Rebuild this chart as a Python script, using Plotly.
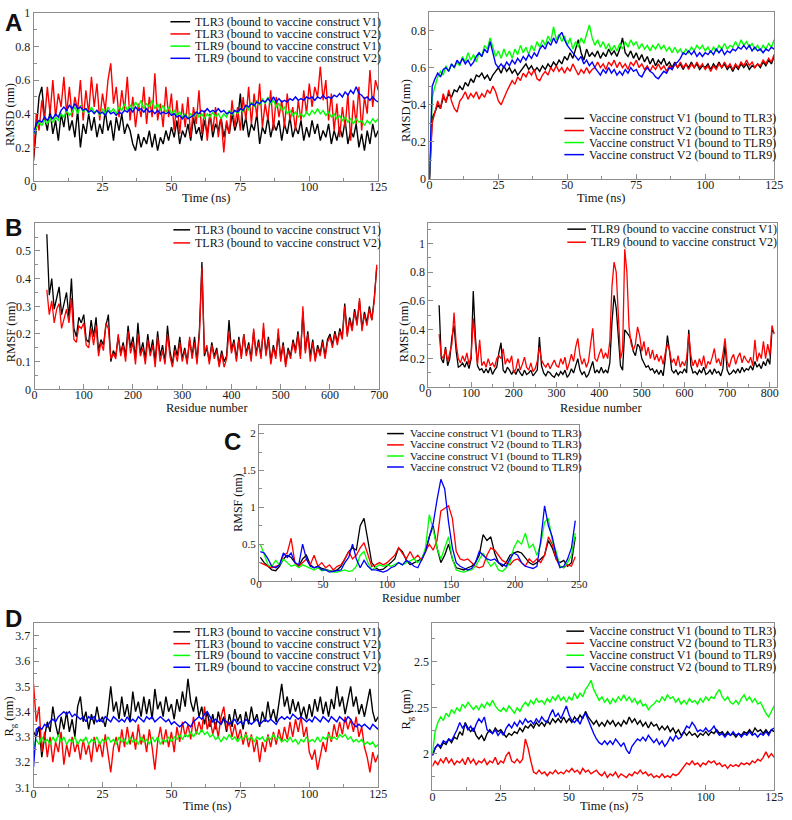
import plotly.graph_objects as go

W, H = 792, 820
SERIF = "Liberation Serif, Times New Roman, serif"
SANS = "Liberation Sans, Arial, sans-serif"
AXC = "#8c8c8c"
COLORS = ["#000000", "#ff0000", "#00ff00", "#0000ff"]

# ---------------- Panel A (left): RMSD of TLR3/TLR9, time 0..125 ns (1 ns step)
A_TLR3_V1 = [0.12,0.30,0.50,0.56,0.38,0.30,0.42,0.28,0.36,0.24,
             0.40,0.32,0.44,0.30,0.36,0.26,0.42,0.20,0.34,0.28,
             0.40,0.30,0.38,0.26,0.34,0.28,0.42,0.30,0.36,0.24,
             0.38,0.30,0.40,0.28,0.34,0.30,0.22,0.18,0.28,0.20,
             0.26,0.22,0.30,0.20,0.28,0.18,0.26,0.22,0.30,0.24,
             0.32,0.26,0.36,0.22,0.30,0.26,0.34,0.24,0.38,0.28,
             0.32,0.24,0.36,0.28,0.40,0.26,0.34,0.30,0.38,0.26,
             0.34,0.28,0.40,0.30,0.36,0.52,0.30,0.38,0.26,0.34,
             0.30,0.40,0.22,0.32,0.28,0.38,0.26,0.34,0.30,0.36,
             0.24,0.34,0.28,0.38,0.26,0.32,0.28,0.36,0.24,0.32,
             0.26,0.36,0.28,0.34,0.24,0.30,0.26,0.34,0.22,0.30,
             0.24,0.32,0.26,0.36,0.22,0.30,0.26,0.34,0.20,0.28,
             0.18,0.30,0.22,0.34,0.26,0.30]
A_TLR3_V2 = [0.14,0.40,0.30,0.48,0.36,0.56,0.40,0.60,0.38,0.52,
             0.44,0.62,0.40,0.56,0.38,0.50,0.42,0.60,0.36,0.54,
             0.40,0.62,0.44,0.58,0.36,0.52,0.42,0.60,0.70,0.46,
             0.56,0.38,0.54,0.42,0.62,0.36,0.50,0.32,0.46,0.38,
             0.56,0.34,0.50,0.38,0.64,0.36,0.46,0.32,0.56,0.38,
             0.52,0.30,0.48,0.28,0.46,0.32,0.50,0.26,0.44,0.34,
             0.54,0.28,0.42,0.24,0.40,0.30,0.44,0.26,0.38,0.17,
             0.36,0.28,0.48,0.32,0.44,0.30,0.50,0.36,0.56,0.34,
             0.52,0.38,0.58,0.32,0.46,0.36,0.54,0.30,0.50,0.38,
             0.48,0.32,0.52,0.36,0.44,0.30,0.48,0.36,0.54,0.40,
             0.58,0.44,0.56,0.50,0.68,0.48,0.60,0.36,0.52,0.30,
             0.46,0.26,0.44,0.32,0.52,0.24,0.48,0.34,0.56,0.30,
             0.50,0.40,0.66,0.44,0.60,0.54]
A_TLR9_V1 = [0.28,0.32,0.35,0.33,0.36,0.34,0.37,0.35,0.38,0.36,
             0.40,0.38,0.42,0.39,0.41,0.44,0.40,0.45,0.41,0.43,
             0.40,0.44,0.41,0.42,0.39,0.43,0.40,0.44,0.41,0.43,
             0.40,0.44,0.42,0.46,0.42,0.45,0.43,0.47,0.44,0.48,
             0.43,0.46,0.44,0.48,0.43,0.46,0.42,0.45,0.41,0.44,
             0.40,0.42,0.39,0.41,0.38,0.40,0.37,0.40,0.38,0.41,
             0.38,0.40,0.37,0.40,0.38,0.41,0.38,0.40,0.37,0.40,
             0.38,0.42,0.39,0.42,0.40,0.43,0.41,0.45,0.42,0.47,
             0.44,0.48,0.45,0.49,0.46,0.50,0.46,0.48,0.44,0.46,
             0.42,0.44,0.40,0.42,0.39,0.41,0.38,0.40,0.38,0.41,
             0.39,0.42,0.40,0.43,0.40,0.42,0.39,0.41,0.38,0.40,
             0.37,0.39,0.36,0.38,0.35,0.37,0.34,0.37,0.35,0.36,
             0.33,0.36,0.34,0.37,0.35,0.37]
A_TLR9_V2 = [0.28,0.34,0.36,0.35,0.38,0.36,0.39,0.37,0.40,0.38,
             0.42,0.44,0.42,0.45,0.43,0.46,0.43,0.44,0.42,0.43,
             0.41,0.42,0.40,0.42,0.40,0.41,0.39,0.42,0.40,0.41,
             0.39,0.41,0.40,0.42,0.41,0.43,0.41,0.44,0.42,0.43,
             0.41,0.43,0.41,0.42,0.40,0.42,0.40,0.41,0.40,0.41,
             0.39,0.40,0.38,0.39,0.37,0.39,0.37,0.38,0.39,0.41,
             0.40,0.42,0.41,0.43,0.41,0.42,0.41,0.43,0.41,0.42,
             0.40,0.41,0.40,0.42,0.41,0.43,0.42,0.45,0.44,0.46,
             0.45,0.47,0.46,0.48,0.47,0.49,0.47,0.50,0.47,0.49,
             0.47,0.48,0.47,0.49,0.48,0.50,0.48,0.49,0.48,0.50,
             0.49,0.50,0.48,0.50,0.49,0.51,0.49,0.50,0.49,0.51,
             0.50,0.52,0.50,0.53,0.51,0.54,0.52,0.56,0.52,0.51,
             0.49,0.50,0.48,0.50,0.48,0.47]

# ---------------- Panel A (right): RMSD of vaccine constructs
AR_V1_TLR3 = [0.00,0.33,0.36,0.40,0.38,0.44,0.42,0.46,0.44,0.48,
              0.47,0.50,0.48,0.52,0.50,0.54,0.52,0.56,0.55,0.57,
              0.54,0.56,0.53,0.56,0.58,0.60,0.57,0.61,0.58,0.60,
              0.57,0.59,0.56,0.58,0.60,0.62,0.59,0.61,0.58,0.60,
              0.58,0.61,0.59,0.62,0.60,0.63,0.61,0.64,0.62,0.66,
              0.64,0.68,0.65,0.70,0.75,0.68,0.64,0.70,0.66,0.68,
              0.66,0.69,0.65,0.68,0.66,0.70,0.67,0.69,0.66,0.70,
              0.76,0.68,0.66,0.69,0.65,0.68,0.64,0.67,0.63,0.66,
              0.62,0.65,0.61,0.64,0.62,0.65,0.61,0.63,0.60,0.63,
              0.60,0.62,0.59,0.62,0.60,0.63,0.60,0.62,0.59,0.61,
              0.60,0.62,0.59,0.62,0.60,0.63,0.60,0.62,0.59,0.61,
              0.58,0.61,0.59,0.62,0.60,0.62,0.59,0.61,0.60,0.62,
              0.60,0.63,0.61,0.64,0.62,0.66]
AR_V2_TLR3 = [0.00,0.30,0.36,0.42,0.38,0.46,0.41,0.48,0.42,0.38,
              0.36,0.42,0.44,0.47,0.43,0.46,0.44,0.47,0.43,0.46,
              0.44,0.48,0.46,0.50,0.47,0.42,0.40,0.44,0.47,0.50,
              0.53,0.51,0.55,0.53,0.57,0.55,0.58,0.56,0.59,0.54,
              0.53,0.56,0.58,0.56,0.60,0.58,0.61,0.58,0.60,0.57,
              0.60,0.58,0.62,0.59,0.56,0.59,0.57,0.60,0.57,0.59,
              0.60,0.63,0.60,0.62,0.59,0.63,0.61,0.64,0.60,0.63,
              0.60,0.62,0.59,0.63,0.61,0.64,0.60,0.62,0.59,0.61,
              0.58,0.61,0.59,0.62,0.59,0.61,0.58,0.61,0.59,0.62,
              0.60,0.63,0.60,0.62,0.59,0.62,0.60,0.63,0.60,0.62,
              0.59,0.61,0.58,0.61,0.59,0.62,0.60,0.63,0.60,0.62,
              0.59,0.62,0.60,0.63,0.61,0.64,0.61,0.63,0.60,0.62,
              0.61,0.64,0.62,0.65,0.63,0.67]
AR_V1_TLR9 = [0.00,0.44,0.50,0.55,0.58,0.56,0.61,0.58,0.62,0.60,
              0.63,0.61,0.66,0.63,0.68,0.64,0.67,0.63,0.68,0.66,
              0.72,0.70,0.76,0.71,0.66,0.69,0.65,0.70,0.66,0.69,
              0.65,0.70,0.67,0.72,0.68,0.71,0.67,0.72,0.69,0.74,
              0.71,0.75,0.72,0.77,0.74,0.82,0.75,0.78,0.74,0.77,
              0.72,0.76,0.70,0.74,0.71,0.76,0.73,0.78,0.83,0.76,
              0.72,0.75,0.71,0.74,0.70,0.73,0.69,0.72,0.69,0.73,
              0.70,0.74,0.71,0.75,0.72,0.74,0.70,0.73,0.70,0.72,
              0.69,0.72,0.70,0.73,0.70,0.72,0.69,0.71,0.68,0.71,
              0.68,0.70,0.67,0.70,0.68,0.71,0.69,0.72,0.70,0.72,
              0.69,0.71,0.68,0.71,0.69,0.72,0.70,0.73,0.70,0.72,
              0.71,0.74,0.71,0.75,0.72,0.74,0.71,0.73,0.70,0.72,
              0.69,0.72,0.70,0.73,0.71,0.75]
AR_V2_TLR9 = [0.00,0.50,0.54,0.57,0.55,0.59,0.60,0.58,0.62,0.60,
              0.64,0.62,0.65,0.62,0.64,0.61,0.63,0.66,0.68,0.66,
              0.70,0.68,0.74,0.68,0.62,0.60,0.62,0.60,0.63,0.61,
              0.64,0.62,0.65,0.63,0.66,0.64,0.67,0.65,0.68,0.66,
              0.70,0.72,0.70,0.74,0.72,0.76,0.73,0.77,0.79,0.75,
              0.72,0.70,0.68,0.66,0.64,0.66,0.62,0.64,0.61,0.63,
              0.60,0.58,0.56,0.59,0.57,0.60,0.57,0.59,0.56,0.58,
              0.56,0.59,0.57,0.60,0.58,0.59,0.56,0.55,0.58,0.60,
              0.58,0.57,0.55,0.54,0.56,0.58,0.57,0.60,0.59,0.62,
              0.63,0.65,0.68,0.67,0.69,0.67,0.69,0.66,0.68,0.66,
              0.68,0.67,0.69,0.67,0.70,0.68,0.70,0.67,0.69,0.68,
              0.70,0.69,0.71,0.70,0.72,0.70,0.72,0.69,0.71,0.69,
              0.70,0.68,0.70,0.69,0.71,0.70]

# ---------------- Panel B (left): RMSF TLR3, residues from 25 step 5
B_TLR3_START, B_STEP = 25, 5
B_TLR3_V1 = [0.56,0.34,0.40,0.29,0.33,0.37,0.27,0.31,0.35,0.26,
             0.40,0.22,0.19,0.26,0.24,0.27,0.18,0.17,0.25,0.19,
             0.26,0.14,0.18,0.16,0.23,0.27,0.10,0.14,0.12,0.19,
             0.13,0.17,0.12,0.23,0.15,0.19,0.11,0.24,0.13,0.17,
             0.11,0.20,0.13,0.18,0.10,0.21,0.12,0.16,0.10,0.23,
             0.14,0.09,0.16,0.12,0.19,0.11,0.15,0.10,0.18,0.12,
             0.19,0.10,0.22,0.46,0.12,0.15,0.10,0.17,0.12,0.15,
             0.09,0.14,0.10,0.12,0.25,0.14,0.18,0.11,0.19,0.12,
             0.20,0.13,0.17,0.11,0.21,0.13,0.18,0.12,0.22,0.13,
             0.19,0.10,0.16,0.12,0.20,0.11,0.17,0.09,0.15,0.12,
             0.18,0.14,0.21,0.12,0.28,0.14,0.21,0.12,0.18,0.11,
             0.16,0.13,0.18,0.12,0.18,0.20,0.16,0.21,0.17,0.22,
             0.19,0.31,0.20,0.26,0.22,0.29,0.24,0.32,0.22,0.28,
             0.24,0.30,0.25,0.33,0.44]
B_TLR3_V2 = [0.36,0.27,0.32,0.24,0.29,0.31,0.22,0.26,0.29,0.24,
             0.33,0.18,0.17,0.23,0.22,0.24,0.16,0.15,0.22,0.16,
             0.23,0.12,0.17,0.14,0.24,0.22,0.11,0.13,0.11,0.20,
             0.12,0.16,0.10,0.21,0.13,0.17,0.09,0.20,0.12,0.15,
             0.09,0.18,0.12,0.16,0.08,0.19,0.10,0.14,0.09,0.20,
             0.12,0.08,0.14,0.10,0.17,0.10,0.14,0.09,0.19,0.11,
             0.17,0.09,0.20,0.44,0.13,0.16,0.09,0.16,0.11,0.14,
             0.08,0.13,0.08,0.11,0.21,0.13,0.17,0.10,0.18,0.11,
             0.20,0.12,0.16,0.10,0.22,0.12,0.17,0.11,0.24,0.12,
             0.18,0.09,0.15,0.11,0.22,0.10,0.16,0.08,0.14,0.11,
             0.17,0.13,0.20,0.11,0.30,0.13,0.20,0.10,0.17,0.10,
             0.15,0.12,0.17,0.11,0.17,0.19,0.15,0.20,0.16,0.21,
             0.18,0.30,0.19,0.25,0.21,0.28,0.23,0.33,0.21,0.27,
             0.23,0.29,0.25,0.32,0.45]

# ---------------- Panel B (right): RMSF TLR9, residues from 25 step 5
B_TLR9_START = 25
B_TLR9_V1 = [0.57,0.20,0.17,0.28,0.15,0.20,0.35,0.43,0.25,0.14,
             0.15,0.17,0.14,0.18,0.13,0.20,0.67,0.35,0.15,0.12,
             0.13,0.10,0.13,0.10,0.14,0.09,0.12,0.14,0.24,0.31,
             0.12,0.10,0.14,0.12,0.09,0.12,0.09,0.13,0.10,0.08,
             0.12,0.09,0.10,0.12,0.08,0.10,0.12,0.35,0.15,0.10,
             0.08,0.11,0.10,0.08,0.07,0.10,0.08,0.11,0.09,0.12,
             0.07,0.09,0.13,0.10,0.15,0.20,0.12,0.09,0.11,0.07,
             0.09,0.13,0.18,0.10,0.12,0.10,0.14,0.10,0.12,0.10,
             0.17,0.45,0.64,0.55,0.38,0.15,0.12,0.40,0.38,0.36,
             0.33,0.25,0.22,0.30,0.28,0.20,0.17,0.14,0.15,0.12,
             0.13,0.10,0.12,0.09,0.12,0.08,0.20,0.36,0.25,0.12,
             0.10,0.12,0.09,0.11,0.10,0.13,0.10,0.40,0.15,0.10,
             0.11,0.09,0.12,0.10,0.14,0.09,0.10,0.12,0.09,0.13,
             0.10,0.11,0.08,0.13,0.30,0.12,0.09,0.10,0.12,0.10,
             0.13,0.10,0.14,0.11,0.13,0.12,0.15,0.12,0.18,0.14,
             0.16,0.13,0.18,0.15,0.20,0.16,0.40,0.38]
B_TLR9_V2 = [0.37,0.22,0.20,0.27,0.18,0.24,0.30,0.52,0.30,0.20,
             0.17,0.22,0.18,0.24,0.16,0.22,0.48,0.30,0.16,0.33,
             0.15,0.18,0.14,0.20,0.15,0.17,0.14,0.20,0.22,0.20,
             0.27,0.16,0.20,0.17,0.22,0.10,0.13,0.20,0.12,0.16,
             0.21,0.14,0.12,0.17,0.11,0.13,0.18,0.28,0.19,0.16,
             0.14,0.17,0.13,0.16,0.19,0.15,0.14,0.20,0.16,0.21,
             0.12,0.17,0.23,0.18,0.28,0.34,0.22,0.16,0.20,0.14,
             0.18,0.30,0.41,0.20,0.18,0.23,0.27,0.20,0.24,0.20,
             0.32,0.70,0.87,0.80,0.50,0.20,0.26,0.96,0.80,0.42,
             0.30,0.26,0.30,0.42,0.36,0.25,0.32,0.22,0.28,0.20,
             0.26,0.19,0.23,0.18,0.22,0.16,0.24,0.30,0.26,0.17,
             0.20,0.15,0.22,0.14,0.18,0.15,0.20,0.37,0.22,0.15,
             0.19,0.14,0.20,0.15,0.22,0.13,0.18,0.16,0.21,0.27,
             0.17,0.20,0.15,0.23,0.34,0.18,0.14,0.20,0.23,0.16,
             0.21,0.24,0.17,0.22,0.19,0.17,0.21,0.15,0.33,0.18,
             0.24,0.20,0.32,0.20,0.30,0.22,0.43,0.37]

# ---------------- Panel C: RMSF vaccine constructs, residues from 1 step 3
C_START, C_STEP = 1, 3
C_V1_TLR3 = [0.32,0.25,0.20,0.15,0.14,0.20,0.30,0.35,0.32,0.25,
             0.20,0.30,0.35,0.22,0.18,0.20,0.17,0.15,0.14,0.13,
             0.15,0.20,0.30,0.40,0.45,0.42,0.75,0.85,0.55,0.25,
             0.18,0.15,0.16,0.20,0.25,0.30,0.45,0.40,0.28,0.22,
             0.25,0.28,0.30,0.40,0.60,0.75,0.45,0.25,0.35,0.50,
             0.30,0.18,0.16,0.15,0.18,0.20,0.25,0.35,0.63,0.55,
             0.60,0.38,0.25,0.20,0.25,0.35,0.38,0.40,0.38,0.32,
             0.25,0.22,0.25,0.30,0.35,0.55,0.45,0.30,0.25,0.28,
             0.20,0.25,0.60]
C_V2_TLR3 = [0.25,0.22,0.20,0.18,0.20,0.22,0.35,0.38,0.58,0.25,
             0.20,0.25,0.30,0.22,0.35,0.20,0.25,0.18,0.22,0.15,
             0.20,0.22,0.30,0.40,0.30,0.35,0.45,0.52,0.35,0.20,
             0.22,0.25,0.22,0.25,0.30,0.35,0.45,0.38,0.30,0.40,
             0.30,0.35,0.28,0.40,0.50,0.42,0.55,0.95,0.98,1.02,
             0.85,0.40,0.30,0.28,0.30,0.25,0.20,0.18,0.20,0.35,
             0.45,0.42,0.35,0.28,0.25,0.22,0.28,0.30,0.25,0.20,
             0.30,0.25,0.30,0.25,0.35,0.60,0.50,0.30,0.20,0.18,
             0.22,0.20,0.33]
C_V1_TLR9 = [0.50,0.35,0.22,0.20,0.28,0.22,0.30,0.25,0.20,0.22,
             0.18,0.22,0.20,0.18,0.15,0.18,0.14,0.15,0.13,0.12,
             0.12,0.14,0.15,0.13,0.14,0.20,0.35,0.40,0.25,0.15,
             0.18,0.22,0.20,0.22,0.20,0.22,0.25,0.22,0.25,0.28,
             0.30,0.25,0.30,0.45,0.90,0.70,0.45,0.30,0.45,0.60,
             0.30,0.15,0.13,0.12,0.14,0.15,0.20,0.30,0.38,0.28,
             0.20,0.25,0.15,0.13,0.18,0.25,0.45,0.55,0.50,0.65,
             0.45,0.50,0.35,0.50,0.80,0.85,0.55,0.40,0.20,0.18,
             0.25,0.35,0.65]
C_V2_TLR9 = [0.40,0.38,0.30,0.20,0.18,0.22,0.38,0.32,0.38,0.25,
             0.22,0.50,0.30,0.20,0.18,0.20,0.15,0.15,0.12,0.13,
             0.14,0.15,0.25,0.32,0.50,0.30,0.18,0.28,0.20,0.15,
             0.15,0.13,0.12,0.14,0.18,0.20,0.25,0.22,0.28,0.25,
             0.20,0.18,0.28,0.40,0.60,0.78,1.10,1.38,1.25,0.80,
             0.45,0.25,0.20,0.18,0.15,0.17,0.25,0.40,0.35,0.30,
             0.28,0.30,0.25,0.22,0.20,0.30,0.38,0.35,0.25,0.20,
             0.18,0.17,0.20,0.55,1.02,0.75,0.60,0.35,0.18,0.20,
             0.30,0.45,0.82]

# ---------------- Panel D (left): Rg TLR3/TLR9
D_TLR3_V1 = [3.32,3.30,3.34,3.22,3.30,3.36,3.32,3.42,3.35,3.30,
             3.38,3.33,3.40,3.32,3.37,3.30,3.42,3.46,3.36,3.40,
             3.33,3.39,3.35,3.42,3.36,3.38,3.34,3.40,3.50,3.40,
             3.44,3.37,3.46,3.38,3.43,3.36,3.48,3.40,3.44,3.38,
             3.46,3.39,3.45,3.37,3.49,3.41,3.44,3.38,3.46,3.40,
             3.43,3.37,3.45,3.40,3.48,3.42,3.53,3.44,3.40,3.46,
             3.38,3.42,3.35,3.40,3.34,3.39,3.33,3.40,3.35,3.38,
             3.32,3.39,3.34,3.41,3.36,3.39,3.33,3.40,3.35,3.42,
             3.36,3.39,3.34,3.40,3.36,3.44,3.37,3.41,3.36,3.43,
             3.51,3.42,3.46,3.39,3.45,3.40,3.44,3.38,3.42,3.37,
             3.43,3.38,3.45,3.40,3.46,3.39,3.44,3.38,3.45,3.41,
             3.50,3.42,3.46,3.39,3.44,3.50,3.42,3.46,3.39,3.43,
             3.38,3.44,3.49,3.40,3.36,3.38]
D_TLR3_V2 = [3.51,3.36,3.42,3.24,3.32,3.22,3.30,3.20,3.28,3.24,
             3.32,3.19,3.27,3.22,3.30,3.24,3.28,3.21,3.29,3.23,
             3.27,3.20,3.30,3.24,3.28,3.22,3.31,3.24,3.16,3.26,
             3.30,3.24,3.33,3.26,3.34,3.27,3.32,3.25,3.35,3.27,
             3.31,3.24,3.33,3.26,3.17,3.28,3.34,3.27,3.33,3.26,
             3.32,3.24,3.34,3.28,3.36,3.30,3.35,3.29,3.38,3.31,
             3.36,3.32,3.42,3.33,3.37,3.31,3.36,3.30,3.38,3.42,
             3.33,3.36,3.30,3.35,3.29,3.33,3.27,3.32,3.26,3.31,
             3.24,3.29,3.20,3.28,3.24,3.31,3.26,3.32,3.27,3.33,
             3.28,3.34,3.29,3.36,3.30,3.37,3.32,3.38,3.30,3.34,
             3.24,3.21,3.25,3.17,3.22,3.28,3.24,3.32,3.28,3.35,
             3.30,3.36,3.31,3.38,3.33,3.37,3.32,3.38,3.30,3.34,
             3.26,3.22,3.16,3.24,3.20,3.23]
D_TLR9_V1 = [3.26,3.29,3.27,3.30,3.28,3.29,3.27,3.30,3.28,3.31,
             3.28,3.30,3.27,3.29,3.28,3.30,3.27,3.29,3.28,3.30,
             3.27,3.29,3.28,3.30,3.27,3.29,3.28,3.30,3.28,3.29,
             3.27,3.30,3.28,3.29,3.27,3.30,3.28,3.29,3.27,3.30,
             3.28,3.29,3.27,3.30,3.28,3.30,3.27,3.29,3.28,3.30,
             3.28,3.30,3.29,3.31,3.29,3.31,3.30,3.32,3.30,3.32,
             3.31,3.33,3.31,3.32,3.30,3.31,3.29,3.30,3.28,3.30,
             3.29,3.31,3.29,3.30,3.28,3.30,3.29,3.31,3.29,3.30,
             3.28,3.30,3.29,3.30,3.28,3.30,3.29,3.31,3.29,3.30,
             3.28,3.29,3.28,3.30,3.28,3.29,3.27,3.29,3.28,3.30,
             3.28,3.29,3.28,3.30,3.28,3.30,3.29,3.31,3.29,3.30,
             3.29,3.31,3.30,3.31,3.29,3.30,3.28,3.29,3.28,3.29,
             3.27,3.28,3.27,3.28,3.26,3.27]
D_TLR9_V2 = [3.18,3.33,3.34,3.33,3.35,3.34,3.36,3.37,3.36,3.38,
             3.39,3.40,3.39,3.40,3.38,3.39,3.38,3.37,3.38,3.36,
             3.38,3.37,3.38,3.36,3.37,3.36,3.38,3.37,3.36,3.38,
             3.37,3.36,3.37,3.36,3.38,3.36,3.37,3.36,3.38,3.37,
             3.36,3.38,3.37,3.38,3.36,3.37,3.38,3.37,3.36,3.37,
             3.35,3.36,3.35,3.34,3.35,3.36,3.35,3.34,3.36,3.37,
             3.38,3.37,3.39,3.40,3.38,3.36,3.37,3.36,3.35,3.37,
             3.36,3.35,3.36,3.37,3.35,3.36,3.35,3.37,3.36,3.35,
             3.36,3.37,3.35,3.36,3.37,3.36,3.37,3.36,3.35,3.37,
             3.38,3.37,3.38,3.37,3.39,3.38,3.37,3.38,3.37,3.36,
             3.37,3.36,3.38,3.37,3.36,3.38,3.37,3.36,3.38,3.37,
             3.36,3.38,3.37,3.36,3.38,3.37,3.35,3.34,3.35,3.34,
             3.35,3.34,3.33,3.35,3.34,3.33]

# ---------------- Panel D (right): Rg vaccine constructs
DR_V1_TLR3 = [1.99,2.03,2.05,2.03,2.06,2.05,2.08,2.06,2.09,2.08,
              2.12,2.10,2.17,2.14,2.12,2.14,2.10,2.08,2.10,2.07,
              2.11,2.13,2.11,2.14,2.12,2.13,2.11,2.09,2.11,2.10,
              2.12,2.11,2.14,2.12,2.15,2.14,2.16,2.14,2.17,2.15,
              2.17,2.15,2.18,2.16,2.19,2.17,2.19,2.17,2.20,2.17,
              2.19,2.17,2.20,2.18,2.21,2.19,2.23,2.20,2.18,2.16,
              2.18,2.15,2.17,2.15,2.18,2.16,2.18,2.15,2.17,2.15,
              2.18,2.16,2.20,2.17,2.19,2.16,2.18,2.15,2.17,2.14,
              2.17,2.15,2.16,2.13,2.15,2.13,2.15,2.12,2.14,2.11,
              2.13,2.10,2.12,2.10,2.12,2.10,2.11,2.09,2.11,2.10,
              2.12,2.10,2.12,2.11,2.13,2.11,2.12,2.10,2.12,2.10,
              2.11,2.09,2.11,2.10,2.12,2.11,2.13,2.11,2.14,2.12,
              2.13,2.11,2.13,2.11,2.13,2.12]
DR_V2_TLR3 = [1.93,1.96,1.94,1.97,1.95,1.98,1.95,1.97,1.94,1.96,
              1.95,1.97,1.94,1.98,1.95,1.97,1.94,1.96,1.95,1.97,
              1.94,1.96,1.95,1.98,1.94,1.96,1.95,1.99,2.01,1.96,
              1.95,1.97,1.95,1.97,2.08,2.03,1.96,1.90,1.89,1.91,
              1.89,1.90,1.88,1.90,1.89,1.91,1.89,1.90,1.89,1.91,
              1.90,1.92,1.90,1.91,1.89,1.92,1.90,1.91,1.89,1.90,
              1.91,1.89,1.88,1.90,1.87,1.89,1.88,1.90,1.87,1.89,
              1.88,1.87,1.89,1.88,1.90,1.89,1.91,1.89,1.90,1.88,
              1.89,1.87,1.88,1.87,1.89,1.87,1.88,1.87,1.89,1.88,
              1.89,1.91,1.93,1.95,1.94,1.96,1.94,1.95,1.93,1.95,
              1.94,1.96,1.95,1.96,1.94,1.95,1.93,1.94,1.92,1.94,
              1.93,1.94,1.93,1.95,1.94,1.95,1.94,1.96,1.95,1.97,
              1.96,1.98,2.01,1.98,2.00,1.98]
DR_V1_TLR9 = [2.00,2.12,2.17,2.20,2.18,2.22,2.20,2.24,2.22,2.25,
              2.23,2.27,2.25,2.28,2.26,2.24,2.26,2.24,2.27,2.25,
              2.28,2.26,2.29,2.26,2.24,2.23,2.25,2.23,2.26,2.24,
              2.22,2.25,2.23,2.26,2.28,2.26,2.29,2.27,2.30,2.28,
              2.29,2.27,2.30,2.28,2.31,2.29,2.32,2.29,2.31,2.28,
              2.31,2.29,2.33,2.30,2.33,2.31,2.35,2.37,2.40,2.35,
              2.32,2.29,2.31,2.28,2.30,2.27,2.30,2.28,2.31,2.29,
              2.32,2.29,2.31,2.28,2.30,2.27,2.29,2.26,2.27,2.24,
              2.26,2.27,2.29,2.28,2.31,2.29,2.32,2.30,2.31,2.28,
              2.30,2.27,2.29,2.27,2.30,2.28,2.29,2.27,2.30,2.28,
              2.31,2.29,2.31,2.30,2.33,2.35,2.31,2.29,2.31,2.28,
              2.27,2.29,2.27,2.30,2.32,2.29,2.31,2.28,2.30,2.27,
              2.28,2.25,2.22,2.20,2.23,2.26]
DR_V2_TLR9 = [1.99,2.03,2.05,2.04,2.07,2.06,2.08,2.07,2.10,2.13,
              2.17,2.14,2.16,2.13,2.15,2.12,2.16,2.19,2.17,2.20,
              2.13,2.12,2.11,2.13,2.10,2.12,2.10,2.14,2.16,2.14,
              2.17,2.15,2.18,2.16,2.19,2.17,2.18,2.16,2.19,2.17,
              2.20,2.18,2.17,2.21,2.24,2.20,2.22,2.19,2.23,2.26,
              2.21,2.18,2.17,2.19,2.16,2.20,2.22,2.18,2.15,2.11,
              2.08,2.06,2.05,2.07,2.05,2.07,2.05,2.08,2.06,2.04,
              2.06,2.02,2.00,2.04,2.06,2.08,2.07,2.09,2.07,2.10,
              2.08,2.06,2.08,2.05,2.07,2.04,2.06,2.09,2.07,2.10,
              2.08,2.09,2.12,2.15,2.14,2.17,2.15,2.12,2.13,2.12,
              2.14,2.12,2.13,2.15,2.12,2.10,2.11,2.09,2.11,2.10,
              2.12,2.10,2.11,2.09,2.11,2.10,2.12,2.10,2.11,2.09,
              2.11,2.10,2.12,2.10,2.13,2.14]

TLR_LABELS = ["TLR3 (bound to vaccine construct V1)", "TLR3 (bound to vaccine construct V2)",
              "TLR9 (bound to vaccine construct V1)", "TLR9 (bound to vaccine construct V2)"]
VAC_LABELS = ["Vaccine construct V1 (bound to TLR3)", "Vaccine construct V2 (bound to TLR3)",
              "Vaccine construct V1 (bound to TLR9)", "Vaccine construct V2 (bound to TLR9)"]
TIME_TICKS = [0, 25, 50, 75, 100, 125]


def fx(p):
    return p / W


def fy(p):
    return 1 - p / H


def fmt(v):
    return ("%.3f" % v).rstrip("0").rstrip(".")


# panel definitions: pixel box (x0, y0, x1, y1)
PANELS = [
    dict(box=(31, 6, 381, 177), xr=[0, 125], yr=[0, 1], xt=TIME_TICKS, xm=12.5,
         yt=[0, 0.2, 0.4, 0.6, 0.8, 1], ym=0.1, fs=12, so=-5),
    dict(box=(433, 5, 783, 175), xr=[0, 125], yr=[0, 0.9], xt=TIME_TICKS, xm=12.5,
         yt=[0, 0.2, 0.4, 0.6, 0.8], ym=0.1, fs=12, so=-5),
    dict(box=(32, 220, 382, 389), xr=[0, 700], yr=[0, 0.6], xt=list(range(0, 701, 100)), xm=50,
         yt=[0, 0.1, 0.2, 0.3, 0.4, 0.5], ym=0.05, fs=12, so=-6),
    dict(box=(432, 220, 786, 387), xr=[0, 817], yr=[0, 1.14], xt=list(range(0, 801, 100)), xm=50,
         yt=[0, 0.2, 0.4, 0.6, 0.8, 1], ym=0.1, fs=12, so=-6),
    dict(box=(260, 425, 585, 584), xr=[0, 250], yr=[0, 2.12], xt=[0, 50, 100, 150, 200, 250], xm=25,
         yt=[0, 0.5, 1, 1.5, 2], ym=0.25, fs=11, so=-7),
    dict(box=(31, 627, 381, 794), xr=[0, 125], yr=[3.1, 3.75], xt=TIME_TICKS, xm=12.5,
         yt=[3.1, 3.2, 3.3, 3.4, 3.5, 3.6, 3.7], ym=0.05, fs=12, so=-5),
    dict(box=(436, 627, 783, 797), xr=[0, 125], yr=[1.8, 2.71], xt=TIME_TICKS, xm=12.5,
         yt=[2, 2.25, 2.5], ym=0.125, fs=12, so=-5),
]

fig = go.Figure()
axes = {}
for i, p in enumerate(PANELS, start=1):
    x0, y0, x1, y1 = p["box"]
    sfx = "" if i == 1 else str(i)
    common = dict(showline=True, linecolor=AXC, linewidth=1, mirror=True,
                  ticks="inside", ticklen=5, tickwidth=1, tickcolor=AXC,
                  showgrid=False, zeroline=False, fixedrange=True,
                  ticklabeloverflow="allow",
                  tickfont=dict(family=SERIF, size=p["fs"], color="#1a1a1a"))
    axes["xaxis" + sfx] = dict(domain=[fx(x0), fx(x1)], range=p["xr"], anchor="y" + sfx,
                               tickmode="array", tickvals=p["xt"], ticktext=[fmt(v) for v in p["xt"]],
                               ticklabelstandoff=p["so"],
                               minor=dict(ticks="inside", ticklen=3, tickcolor=AXC, dtick=p["xm"], tick0=0),
                               **common)
    axes["yaxis" + sfx] = dict(domain=[fy(y1), fy(y0)], range=p["yr"], anchor="x" + sfx,
                               tickmode="array", tickvals=p["yt"], ticktext=[fmt(v) for v in p["yt"]],
                               minor=dict(ticks="inside", ticklen=3, tickcolor=AXC, dtick=p["ym"], tick0=0),
                               **common)


def add_series(idx, values, name, color, start=0, step=1, width=1.4):
    sfx = "" if idx == 1 else str(idx)
    xs = [start + step * k for k in range(len(values))]
    fig.add_trace(go.Scatter(x=xs, y=values, mode="lines", name=name, showlegend=False,
                             line=dict(color=color, width=width),
                             xaxis="x" + sfx, yaxis="y" + sfx))


for s, lab, col in zip([A_TLR3_V1, A_TLR3_V2, A_TLR9_V1, A_TLR9_V2], TLR_LABELS, COLORS):
    add_series(1, s, lab, col)
for s, lab, col in zip([AR_V1_TLR3, AR_V2_TLR3, AR_V1_TLR9, AR_V2_TLR9], VAC_LABELS, COLORS):
    add_series(2, s, lab, col)
add_series(3, B_TLR3_V1, TLR_LABELS[0], COLORS[0], B_TLR3_START, B_STEP, 1.3)
add_series(3, B_TLR3_V2, TLR_LABELS[1], COLORS[1], B_TLR3_START, B_STEP, 1.3)
add_series(4, B_TLR9_V1, TLR_LABELS[2], COLORS[0], B_TLR9_START, B_STEP, 1.3)
add_series(4, B_TLR9_V2, TLR_LABELS[3], COLORS[1], B_TLR9_START, B_STEP, 1.3)
for s, lab, col in zip([C_V1_TLR3, C_V2_TLR3, C_V1_TLR9, C_V2_TLR9], VAC_LABELS, COLORS):
    add_series(5, s, lab, col, C_START, C_STEP, 1.3)
for s, lab, col in zip([D_TLR3_V1, D_TLR3_V2, D_TLR9_V1, D_TLR9_V2], TLR_LABELS, COLORS):
    add_series(6, s, lab, col)
for s, lab, col in zip([DR_V1_TLR3, DR_V2_TLR3, DR_V1_TLR9, DR_V2_TLR9], VAC_LABELS, COLORS):
    add_series(7, s, lab, col)

annotations = []
shapes = []


def text(t, x, y, size=12, angle=0, xanchor="center", yanchor="middle", family=SERIF, bold=False):
    annotations.append(dict(text=("<b>%s</b>" % t) if bold else t, x=fx(x), y=fy(y),
                            xref="paper", yref="paper", xanchor=xanchor, yanchor=yanchor,
                            showarrow=False, textangle=angle,
                            font=dict(family=family, size=size, color="#111")))


def legend(labels, colors, lx0, lx1, tx, rows, size=12):
    for lab, col, yy in zip(labels, colors, rows):
        shapes.append(dict(type="line", xref="paper", yref="paper", x0=fx(lx0), x1=fx(lx1),
                           y0=fy(yy), y1=fy(yy), line=dict(color=col, width=1.5)))
        text(lab, tx, yy, size=size, xanchor="left")


legend(TLR_LABELS, COLORS, 170, 190, 193, [15, 27.4, 39.8, 52.2])
legend(VAC_LABELS, COLORS, 570, 590, 593, [113.3, 125.7, 137.9, 150.2])
legend(TLR_LABELS[:2], COLORS[:2], 173, 190, 193, [226.7, 240])
legend(TLR_LABELS[2:], COLORS[:2], 573, 592, 595, [226, 239.3])
legend(VAC_LABELS, COLORS, 390, 407, 411, [434, 445.5, 456.8, 468], size=11)
legend(TLR_LABELS, COLORS, 173, 190, 193, [635.7, 647.7, 659.7, 671.7])
legend(VAC_LABELS, COLORS, 572, 590, 593, [635, 647.3, 659.5, 671.7])

# axis titles
text("Time (ns)", 207, 194, 12.5)
text("RMSD (nm)", 7, 109, 12.5, angle=-90)
text("Time (ns)", 608, 194, 12.5)
text("RMSD (nm)", 409, 105, 12.5, angle=-90)
text("Residue number", 207, 408, 12.5)
text("RMSF (nm)", 8, 330, 12.5, angle=-90)
text("Residue number", 607, 408, 12.5)
text("RMSF (nm)", 408, 330, 12.5, angle=-90)
text("Residue number", 424, 601, 12)
text("RMSF (nm)", 239, 504, 12, angle=-90)
text("Time (ns)", 208, 813, 12.5)
text("R<sub>g</sub> (nm)", 7, 722, 12.5, angle=-90)
text("Time (ns)", 611, 813, 12.5)
text("R<sub>g</sub> (nm)", 410, 715, 12.5, angle=-90)

# panel letters
text("A", 0, 0, 24, xanchor="left", yanchor="top", family=SANS, bold=True)
text("B", 0, 209, 24, xanchor="left", yanchor="top", family=SANS, bold=True)
text("C", 222, 426, 24, xanchor="left", yanchor="top", family=SANS, bold=True)
text("D", 0, 606, 24, xanchor="left", yanchor="top", family=SANS, bold=True)

fig.update_layout(width=W, height=H, margin=dict(l=0, r=0, t=0, b=0),
                  font=dict(family=SERIF, size=12, color="#1a1a1a"),
                  paper_bgcolor="white", plot_bgcolor="white", showlegend=False,
                  annotations=annotations, shapes=shapes, **axes)
fig.write_html("out.html", config={"displayModeBar": False},
               post_script="document.body.style.margin='0';document.body.style.overflow='hidden';")
